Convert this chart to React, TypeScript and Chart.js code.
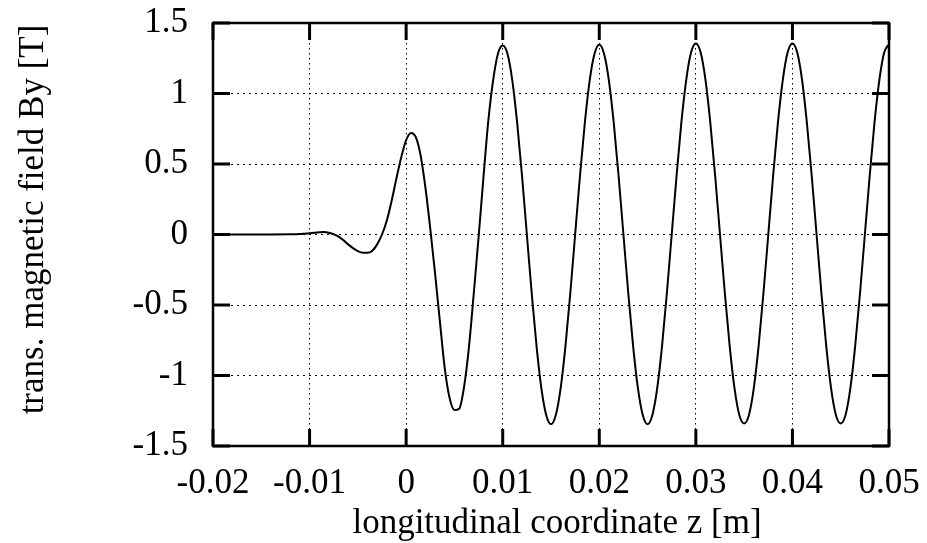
import React, { useEffect, useRef } from "react";
import { Chart, registerables } from "chart.js";

Chart.register(...registerables);

// longitudinal coordinate z [m]
const zValues = [
  -0.02, -0.015, -0.012, -0.011, -0.0105, -0.01, -0.0095, -0.009, -0.0085, -0.008,
  -0.0075, -0.007, -0.0065, -0.006, -0.0055, -0.005, -0.0045, -0.004, -0.0035, -0.003,
  -0.0025, -0.002, -0.0015, -0.001, -0.0005, 0, 0.0005, 0.001, 0.0015, 0.002,
  0.0025, 0.003, 0.0035, 0.004, 0.0045, 0.005, 0.0055, 0.006, 0.0065, 0.007,
  0.0075, 0.008, 0.0085, 0.009, 0.0095, 0.01, 0.0105, 0.011, 0.0115, 0.012,
  0.0125, 0.013, 0.0135, 0.014, 0.0145, 0.015, 0.0155, 0.016, 0.0165, 0.017,
  0.0175, 0.018, 0.0185, 0.019, 0.0195, 0.02, 0.0205, 0.021, 0.0215, 0.022,
  0.0225, 0.023, 0.0235, 0.024, 0.0245, 0.025, 0.0255, 0.026, 0.0265, 0.027,
  0.0275, 0.028, 0.0285, 0.029, 0.0295, 0.03, 0.0305, 0.031, 0.0315, 0.032,
  0.0325, 0.033, 0.0335, 0.034, 0.0345, 0.035, 0.0355, 0.036, 0.0365, 0.037,
  0.0375, 0.038, 0.0385, 0.039, 0.0395, 0.04, 0.0405, 0.041, 0.0415, 0.042,
  0.0425, 0.043, 0.0435, 0.044, 0.0445, 0.045, 0.0455, 0.046, 0.0465, 0.047,
  0.0475, 0.048, 0.0485, 0.049, 0.0495, 0.05,
];

// transverse magnetic field By [T]
const byValues = [
  0, 0, 0.001, 0.003, 0.006, 0.009, 0.013, 0.016, 0.017, 0.012,
  0.002, -0.015, -0.04, -0.07, -0.097, -0.118, -0.13, -0.13, -0.115, -0.07,
  0.0, 0.1, 0.24, 0.4, 0.55, 0.67, 0.72, 0.69, 0.56, 0.33,
  0.04, -0.28, -0.62, -0.95, -1.16, -1.245, -1.235, -1.08, -0.8, -0.42,
  -0.02, 0.4, 0.8, 1.09, 1.28, 1.34, 1.28, 1.09, 0.79, 0.415,
  0.0, -0.415, -0.79, -1.09, -1.28, -1.345, -1.28, -1.09, -0.79, -0.415,
  0.0, 0.415, 0.79, 1.09, 1.28, 1.345, 1.28, 1.09, 0.79, 0.415,
  0.0, -0.415, -0.79, -1.09, -1.28, -1.345, -1.28, -1.09, -0.79, -0.415,
  0.0, 0.415, 0.795, 1.095, 1.29, 1.355, 1.29, 1.095, 0.79, 0.415,
  0.0, -0.415, -0.79, -1.09, -1.28, -1.34, -1.28, -1.09, -0.79, -0.415,
  0.0, 0.415, 0.795, 1.095, 1.29, 1.355, 1.29, 1.095, 0.79, 0.415,
  0.0, -0.415, -0.79, -1.09, -1.28, -1.34, -1.28, -1.09, -0.79, -0.415,
  0.0, 0.415, 0.795, 1.095, 1.29, 1.35,
];

const xTicks = [-0.02, -0.01, 0, 0.01, 0.02, 0.03, 0.04, 0.05];
const yTicks = [-1.5, -1, -0.5, 0, 0.5, 1, 1.5];
const xTitle = "longitudinal coordinate z [m]";
const yTitle = "trans. magnetic field By [T]";

const FONT = '"Liberation Serif", "DejaVu Serif", serif';

export default function App() {
  const ref = useRef<HTMLCanvasElement>(null);

  useEffect(() => {
    if (!ref.current) return;

    const framePlugin = {
      id: "frame",
      afterDraw(chart: any) {
        const { ctx, chartArea: a, scales } = chart;
        ctx.save();
        ctx.strokeStyle = "#000";
        ctx.lineCap = "butt";
        ctx.setLineDash([]);
        const seg = (x1: number, y1: number, x2: number, y2: number) => {
          ctx.beginPath();
          ctx.moveTo(x1, y1);
          ctx.lineTo(x2, y2);
          ctx.stroke();
        };
        ctx.lineWidth = 3;
        const tl = 17;
        for (const v of xTicks) {
          const px = scales.x.getPixelForValue(v);
          seg(px, a.top, px, a.top + tl);
          seg(px, a.bottom, px, a.bottom - tl);
        }
        for (const v of yTicks) {
          const py = scales.y.getPixelForValue(v);
          seg(a.left, py, a.left + tl, py);
          seg(a.right, py, a.right - tl, py);
        }
        ctx.lineWidth = 2.5;
        ctx.strokeRect(a.left, a.top, a.right - a.left, a.bottom - a.top);

        ctx.fillStyle = "#000";
        ctx.font = `35px ${FONT}`;
        ctx.textAlign = "center";
        ctx.textBaseline = "alphabetic";
        ctx.fillText(xTitle, (a.left + a.right) / 2 + 6, a.bottom + 87);
        ctx.translate(a.left - 170, (a.top + a.bottom) / 2 - 15);
        ctx.rotate(-Math.PI / 2);
        ctx.fillText(yTitle, 0, 0);
        ctx.restore();
      },
    };

    const chart = new Chart(ref.current, {
      type: "line",
      data: {
        datasets: [
          {
            data: zValues.map((z, i) => ({ x: z, y: byValues[i] })),
            borderColor: "#000",
            borderWidth: 2,
            pointRadius: 0,
            fill: false,
            cubicInterpolationMode: "monotone",
          },
        ],
      },
      options: {
        animation: false,
        responsive: true,
        maintainAspectRatio: false,
        layout: { padding: { top: 23, right: 38, bottom: 0, left: 0 } },
        plugins: {
          legend: { display: false },
          tooltip: { enabled: false },
        },
        scales: {
          x: {
            type: "linear",
            min: -0.02,
            max: 0.05,
            afterBuildTicks: (s: any) => {
              s.ticks = xTicks.map((v) => ({ value: v }));
            },
            afterFit: (s: any) => {
              s.height = 97;
              s.paddingLeft = 0;
              s.paddingRight = 0;
            },
            ticks: {
              color: "#000",
              font: { family: FONT, size: 35 },
              padding: 17,
              maxRotation: 0,
              autoSkip: false,
              callback: (v: any) => String(+Number(v).toFixed(3)),
            },
            grid: { color: "#000", lineWidth: 1, drawTicks: false },
            border: { display: false, dash: [1.5, 3.5] },
          },
          y: {
            type: "linear",
            min: -1.5,
            max: 1.5,
            afterBuildTicks: (s: any) => {
              s.ticks = yTicks.map((v) => ({ value: v }));
            },
            afterFit: (s: any) => {
              s.width = 213;
              s.paddingTop = 0;
              s.paddingBottom = 0;
            },
            ticks: {
              color: "#000",
              font: { family: FONT, size: 35 },
              padding: 25,
              autoSkip: false,
              callback: (v: any) => String(+Number(v).toFixed(2)),
            },
            grid: { color: "#000", lineWidth: 1, drawTicks: false },
            border: { display: false, dash: [2, 4] },
          },
        },
      },
      plugins: [framePlugin],
    });

    return () => chart.destroy();
  }, []);

  return (
    <div style={{ position: "absolute", left: 0, top: 0, width: 927, height: 543, background: "#fff" }}>
      <canvas ref={ref} />
    </div>
  );
}
